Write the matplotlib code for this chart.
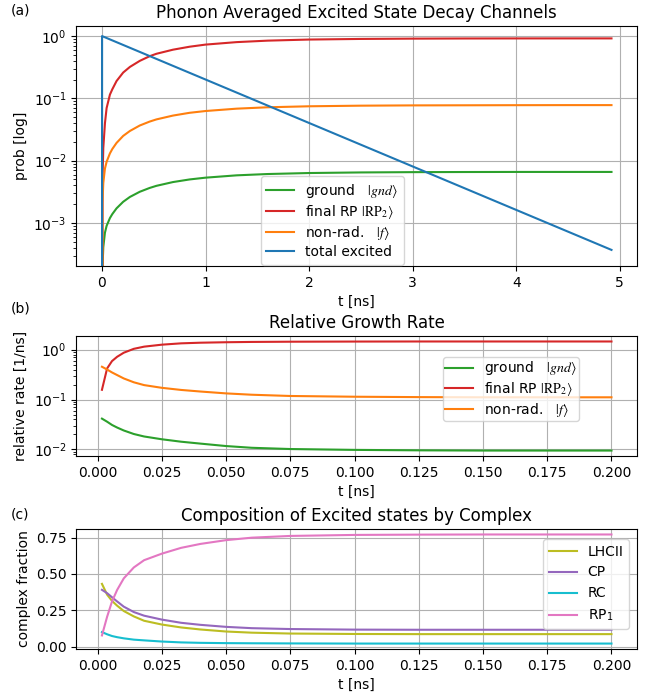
import numpy as np
import matplotlib
matplotlib.use("Agg")
import matplotlib.pyplot as plt

plt.rcParams['mathtext.fontset'] = 'stix'

# (a) phonon averaged decay channels, t in ns
t_a = [0, 0.005, 0.013, 0.029, 0.045, 0.077, 0.1, 0.141, 0.205, 0.27, 0.365, 0.46, 0.526,
       0.686, 0.846, 1.0, 1.3, 1.6, 2.0, 2.5, 3.0, 3.5, 4.0, 4.5, 4.92]
ground_a = [0, 1.9e-4, 4.1e-4, 7.0e-4, 9.0e-4, 1.2e-3, 1.39e-3, 1.72e-3, 2.19e-3, 2.62e-3,
            3.17e-3, 3.65e-3, 3.95e-3, 4.54e-3, 5.0e-3, 5.34e-3, 5.82e-3, 6.11e-3, 6.34e-3,
            6.48e-3, 6.55e-3, 6.58e-3, 6.6e-3, 6.6e-3, 6.6e-3]
final_rp_a = [0, 0.005, 0.016, 0.04, 0.07, 0.115, 0.14, 0.19, 0.26, 0.32, 0.40, 0.475, 0.52,
              0.605, 0.675, 0.73, 0.80, 0.845, 0.88, 0.90, 0.91, 0.915, 0.917, 0.918, 0.918]
nonrad_a = [0, 0.0021, 0.0044, 0.0075, 0.0096, 0.0131, 0.0154, 0.0193, 0.025, 0.030,
            0.0367, 0.0424, 0.046, 0.053, 0.0587, 0.0627, 0.0684, 0.072, 0.0747, 0.0764,
            0.0772, 0.0775, 0.0778, 0.078, 0.078]
t_exc = [0, 0.001, 4.92]
total_exc = [0, 1.0, 3.7e-4]

# (b) and (c) share the same early time grid
t_bc = [0.0017, 0.0037, 0.0056, 0.0076, 0.0102, 0.0141, 0.0181, 0.025, 0.0325, 0.04,
        0.05, 0.06, 0.075, 0.1, 0.125, 0.15, 0.175, 0.2]
ground_b = [0.0415, 0.036, 0.031, 0.0275, 0.024, 0.0204, 0.0182, 0.016, 0.0143, 0.0131,
            0.0117, 0.0108, 0.0102, 0.0098, 0.0096, 0.0095, 0.0095, 0.0095]
final_rp_b = [0.157, 0.42, 0.59, 0.72, 0.87, 1.04, 1.15, 1.26, 1.34, 1.38,
              1.41, 1.43, 1.445, 1.455, 1.46, 1.46, 1.46, 1.46]
nonrad_b = [0.455, 0.40, 0.35, 0.31, 0.265, 0.222, 0.195, 0.172, 0.156, 0.145,
            0.133, 0.125, 0.118, 0.114, 0.112, 0.111, 0.111, 0.111]

lhcii = [0.432, 0.358, 0.315, 0.282, 0.245, 0.208, 0.178, 0.152, 0.132, 0.118,
         0.104, 0.096, 0.09, 0.087, 0.086, 0.086, 0.086, 0.086]
cp = [0.391, 0.368, 0.34, 0.311, 0.275, 0.238, 0.213, 0.186, 0.164, 0.15,
      0.136, 0.127, 0.121, 0.117, 0.116, 0.116, 0.116, 0.116]
rc = [0.1, 0.085, 0.073, 0.065, 0.057, 0.048, 0.043, 0.035, 0.029, 0.026,
      0.024, 0.023, 0.022, 0.021, 0.021, 0.021, 0.021, 0.021]
rp1 = [0.077, 0.205, 0.31, 0.39, 0.47, 0.545, 0.595, 0.64, 0.68, 0.707,
       0.733, 0.75, 0.762, 0.769, 0.771, 0.772, 0.772, 0.772]

lab_gnd = r'ground   $|gnd\rangle$'
lab_rp2 = r'final RP $|\mathrm{RP}_2\rangle$'
lab_f = r'non-rad.   $|f\rangle$'

fig = plt.figure(figsize=(6.57, 6.96), dpi=100)
L, W = 0.1164, 0.8531
ax1 = fig.add_axes([L, 0.6178, W, 0.3448])
ax2 = fig.add_axes([L, 0.3448, W, 0.1724])
ax3 = fig.add_axes([L, 0.0675, W, 0.1724])

# (a)
ax1.plot(t_a, ground_a, color='tab:green', label=lab_gnd)
ax1.plot(t_a, final_rp_a, color='tab:red', label=lab_rp2)
ax1.plot(t_a, nonrad_a, color='tab:orange', label=lab_f)
ax1.plot(t_exc, total_exc, color='tab:blue', label='total excited')
ax1.set_yscale('log')
ax1.set_ylim(2.04e-4, 1.45)
ax1.set_title('Phonon Averaged Excited State Decay Channels')
ax1.set_xlabel('t [ns]')
ax1.set_ylabel('prob [log]')
ax1.grid(True)
ax1.legend(loc='lower left', bbox_to_anchor=(0.329, 0.006), borderaxespad=0,
           labelspacing=0.22)

# (b)
ax2.plot(t_bc, ground_b, color='tab:green', label=lab_gnd)
ax2.plot(t_bc, final_rp_b, color='tab:red', label=lab_rp2)
ax2.plot(t_bc, nonrad_b, color='tab:orange', label=lab_f)
ax2.set_yscale('log')
ax2.set_title('Relative Growth Rate')
ax2.set_xlabel('t [ns]')
ax2.set_ylabel('relative rate [1/ns]')
ax2.grid(True)
ax2.legend(loc='upper left', bbox_to_anchor=(0.654, 0.8225), borderaxespad=0,
           labelspacing=0.2, borderpad=0.15)

# (c)
ax3.plot(t_bc, lhcii, color='tab:olive', label='LHCII')
ax3.plot(t_bc, cp, color='tab:purple', label='CP')
ax3.plot(t_bc, rc, color='tab:cyan', label='RC')
ax3.plot(t_bc, rp1, color='tab:pink', label=r'RP$_\mathregular{1}$')
ax3.set_title('Composition of Excited states by Complex')
ax3.set_xlabel('t [ns]')
ax3.set_ylabel('complex fraction')
ax3.grid(True)
ax3.legend(loc='upper right', bbox_to_anchor=(0.986, 0.917), borderaxespad=0)

fig.text(0.016, 1 - 11 / 696, '(a)', fontsize=10, va='center')
fig.text(0.016, 1 - 308 / 696, '(b)', fontsize=10, va='center')
fig.text(0.016, 1 - 515 / 696, '(c)', fontsize=10, va='center')

fig.savefig('out.png', dpi=100)
